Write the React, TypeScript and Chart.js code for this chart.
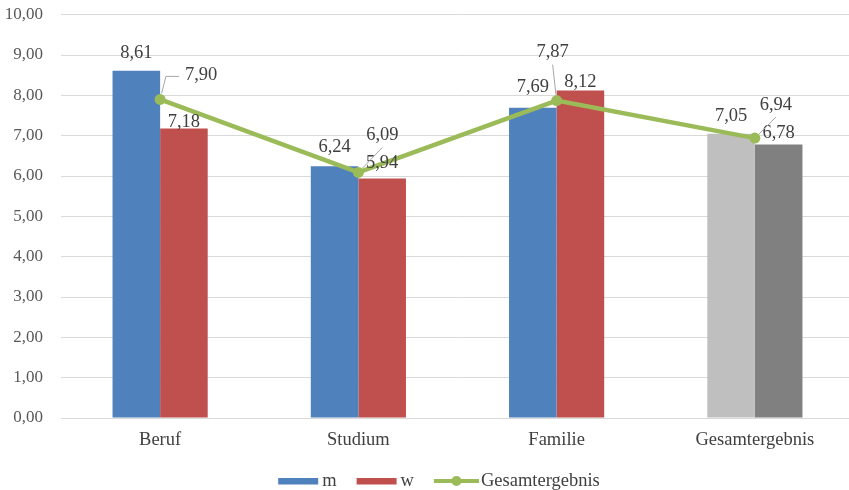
import React, { useEffect, useRef } from "react";
import { Chart, registerables } from "chart.js";

Chart.register(...registerables);

const categories = ["Beruf", "Studium", "Familie", "Gesamtergebnis"];
const mValues = [8.61, 6.24, 7.69, 7.05];
const wValues = [7.18, 5.94, 8.12, 6.78];
const totalValues = [7.9, 6.09, 7.87, 6.94];
const seriesNames = ["m", "w", "Gesamtergebnis"];
const yTicks = [0, 1, 2, 3, 4, 5, 6, 7, 8, 9, 10];

// label placement (styling, px)
const mLabelLift = [18, 19, 21, 18];
const wLabelLift = [6, 15, 8, 11];
const lineLabelDx = [41, 24, -4, 21];
const lineLabelDy = [-24, -37, -48, -33];

const BLUE = "#4F81BD";
const RED = "#C0504D";
const LGRAY = "#BFBFBF";
const DGRAY = "#808080";
const GREEN = "#9BBB59";
const FONT = "Liberation Serif";
const TEXT = "#404040";
const LABEL_SIZE = 18.5;

const fmt = (v: number) => v.toFixed(2).replace(".", ",");

const labelPlugin = {
  id: "customLabels",
  afterDatasetsDraw(chart: any) {
    const ctx = chart.ctx;
    ctx.save();
    ctx.font = `${LABEL_SIZE}px "${FONT}"`;
    ctx.fillStyle = TEXT;
    ctx.textAlign = "center";
    ctx.textBaseline = "middle";
    const mMeta = chart.getDatasetMeta(0);
    const wMeta = chart.getDatasetMeta(1);
    const lMeta = chart.getDatasetMeta(2);
    mMeta.data.forEach((el: any, i: number) => {
      ctx.fillText(fmt(mValues[i]), el.x, el.y - mLabelLift[i]);
    });
    wMeta.data.forEach((el: any, i: number) => {
      ctx.fillText(fmt(wValues[i]), el.x, el.y - wLabelLift[i]);
    });
    lMeta.data.forEach((el: any, i: number) => {
      const lx = el.x + lineLabelDx[i];
      const ly = el.y + lineLabelDy[i];
      const txt = fmt(totalValues[i]);
      const w = ctx.measureText(txt).width;
      ctx.strokeStyle = "#A6A6A6";
      ctx.lineWidth = 1;
      ctx.beginPath();
      if (lineLabelDx[i] > w / 2 + 8) {
        const ex = lx - w / 2 - 19;
        const ey = ly + 1;
        const ang = Math.atan2(ey - el.y, ex - el.x);
        ctx.moveTo(el.x + Math.cos(ang) * 6, el.y + Math.sin(ang) * 6);
        ctx.lineTo(ex, ey);
        ctx.lineTo(lx - w / 2 - 6, ey);
      } else {
        const ex = lx;
        const ey = ly + 12;
        const ang = Math.atan2(ey - el.y, ex - el.x);
        ctx.moveTo(el.x + Math.cos(ang) * 6, el.y + Math.sin(ang) * 6);
        ctx.lineTo(ex, ey);
      }
      ctx.stroke();
      ctx.fillText(txt, lx, ly);
    });
    ctx.restore();
  },
  afterDraw(chart: any) {
    // legend
    const ctx = chart.ctx;
    ctx.save();
    ctx.font = `${LABEL_SIZE}px "${FONT}"`;
    ctx.textBaseline = "middle";
    ctx.textAlign = "left";
    const cy = 481;
    const boxW = 40;
    const lineW = 45;
    const gapBox = 4;
    const gapItem = 20;
    const tw = seriesNames.map((s) => ctx.measureText(s).width);
    const total =
      boxW + gapBox + tw[0] + gapItem + boxW + gapBox + tw[1] + gapItem + lineW + 2 + tw[2];
    let x = 439 - total / 2;
    ctx.fillStyle = BLUE;
    ctx.fillRect(x, cy - 3, boxW, 6.5);
    x += boxW + gapBox;
    ctx.fillStyle = TEXT;
    ctx.fillText(seriesNames[0], x, cy);
    x += tw[0] + gapItem;
    ctx.fillStyle = RED;
    ctx.fillRect(x, cy - 3, boxW, 6.5);
    x += boxW + gapBox;
    ctx.fillStyle = TEXT;
    ctx.fillText(seriesNames[1], x, cy);
    x += tw[1] + gapItem;
    ctx.strokeStyle = GREEN;
    ctx.lineWidth = 4;
    ctx.beginPath();
    ctx.moveTo(x, cy);
    ctx.lineTo(x + lineW, cy);
    ctx.stroke();
    ctx.fillStyle = GREEN;
    ctx.beginPath();
    ctx.arc(x + lineW / 2, cy, 5, 0, Math.PI * 2);
    ctx.fill();
    x += lineW + 2;
    ctx.fillStyle = TEXT;
    ctx.fillText(seriesNames[2], x, cy);
    ctx.restore();
  },
};

export default function App() {
  const canvasRef = useRef<HTMLCanvasElement | null>(null);

  useEffect(() => {
    document.body.style.margin = "0";
    const canvas = canvasRef.current;
    if (!canvas) return;
    const chart = new Chart(canvas, {
      type: "bar",
      data: {
        labels: categories,
        datasets: [
          {
            type: "bar",
            label: seriesNames[0],
            data: mValues,
            backgroundColor: [BLUE, BLUE, BLUE, LGRAY],
            categoryPercentage: 0.48,
            barPercentage: 1,
            order: 2,
          },
          {
            type: "bar",
            label: seriesNames[1],
            data: wValues,
            backgroundColor: [RED, RED, RED, DGRAY],
            categoryPercentage: 0.48,
            barPercentage: 1,
            order: 2,
          },
          {
            type: "line",
            label: seriesNames[2],
            data: totalValues,
            borderColor: GREEN,
            backgroundColor: GREEN,
            borderWidth: 4.5,
            pointRadius: 5.5,
            pointBackgroundColor: GREEN,
            pointBorderWidth: 0,
            tension: 0,
            order: 0,
          },
        ],
      },
      options: {
        animation: false,
        responsive: false,
        maintainAspectRatio: false,
        layout: { padding: { top: 14.7, right: 6, left: 0, bottom: 0 } },
        plugins: {
          legend: { display: false },
          tooltip: { enabled: false },
        },
        scales: {
          x: {
            grid: { display: false, drawTicks: false },
            border: { display: true, color: "#D9D9D9", width: 1 },
            ticks: {
              padding: 11,
              color: TEXT,
              font: { family: FONT, size: LABEL_SIZE },
            },
            afterFit(scale: any) {
              scale.height = 72;
              scale.paddingLeft = 0;
              scale.paddingRight = 0;
            },
          },
          y: {
            min: 0,
            max: 10,
            afterBuildTicks(scale: any) {
              scale.ticks = yTicks.map((v) => ({ value: v }));
            },
            grid: { color: "#D9D9D9", lineWidth: 1, drawTicks: false },
            border: { display: false },
            ticks: {
              padding: 18,
              color: "#595959",
              font: { family: FONT, size: 17 },
              callback: (v: any) => fmt(Number(v)),
            },
            afterFit(scale: any) {
              scale.width = 61;
              scale.paddingTop = 0;
              scale.paddingBottom = 0;
            },
          },
        },
      },
      plugins: [labelPlugin],
    });
    return () => chart.destroy();
  }, []);

  return (
    <div style={{ width: 849, height: 490, overflow: "hidden", position: "relative" }}>
      <canvas ref={canvasRef} width={860} height={490} style={{ display: "block" }} />
    </div>
  );
}
